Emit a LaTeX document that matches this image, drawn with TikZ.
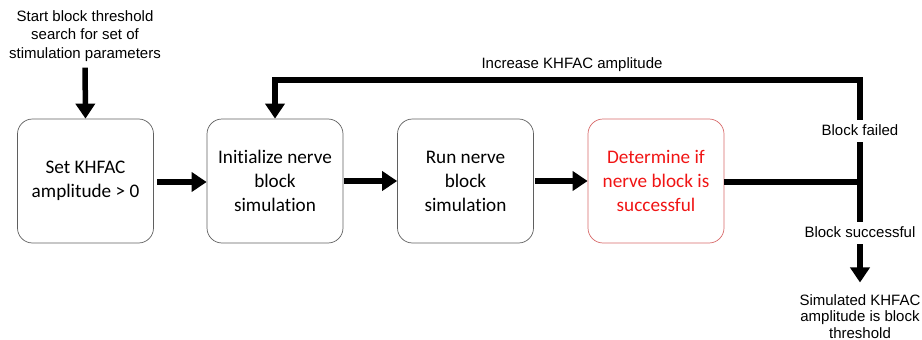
\documentclass[tikz,border=0pt]{standalone}
\usepackage{fontspec}
\usetikzlibrary{arrows.meta}
\newfontfamily\boxfont{Carlito}[Ligatures=NoCommon]
\newfontfamily\labfont{Liberation Sans}
\definecolor{boxline}{RGB}{95,95,95}
\definecolor{redline}{RGB}{215,105,105}
\definecolor{redtext}{RGB}{240,20,20}
\tikzset{
  stepbox/.style={draw=boxline, line width=0.7pt, rounded corners=15pt,
    minimum width=136pt, minimum height=124pt, align=center,
    font=\boxfont\fontsize{19.2}{24}\selectfont},
  redbox/.style={stepbox, draw=redline, text=redtext},
  lab/.style={align=center, inner sep=0pt,
    font=\labfont\fontsize{15}{18.5}\selectfont},
  gaplab/.style={lab, text height=11pt, text depth=3pt, inner ysep=4pt},
  flow/.style={line width=5.5pt},
  arr/.style={flow, -{Triangle[width=19pt,length=15pt]}}
}
\begin{document}
\begin{tikzpicture}[x=1pt,y=-1pt]
\useasboundingbox (0,0) rectangle (922,340);

% start label
\node[lab] (start) at (85,36) {Start block threshold\\search for set of\\stimulation parameters};

% process boxes
\node[stepbox] (box1) at (85.5,181) {Set KHFAC\\amplitude > 0};
\node[stepbox] (box2) at (275,181) {Initialize nerve\\block\\simulation};
\node[stepbox] (box3) at (465.5,181) {Run nerve\\block\\simulation};
\node[redbox]  (box4) at (656,181) {Determine if\\nerve block is\\successful};

% decision labels on the vertical line
\node[gaplab] (failed) at (860,131) {Block failed};
\node[gaplab] (success) at (860,233) {Block successful};
\node[lab, font=\labfont\fontsize{15}{16.3}\selectfont] (result) at (860,316.5)
  {Simulated KHFAC\\amplitude is block\\threshold};
\node[lab] (incr) at (572,65) {Increase KHFAC amplitude};

\coordinate (junction) at (860,182);
\coordinate (topright) at (860,80);

% main flow
\draw[arr, shorten <=6pt] (start.south) -- (box1.north);
\draw[arr, shorten <=3pt] (box1.east |- 0,182) -- (box2.west |- 0,182);
\draw[arr, shorten <=1pt] (box2.east) -- (box3.west);
\draw[arr, shorten <=1pt] (box3.east) -- (box4.west);

% decision branches
\draw[flow] (box4.east |- junction) -- (junction);
\draw[flow] (failed.south) -- (success.north);
\draw[arr] (failed.north) -- (topright) -| (box2.north);
\draw[arr, shorten >=12pt] (success.south) -- (result.north);
\end{tikzpicture}
\end{document}
